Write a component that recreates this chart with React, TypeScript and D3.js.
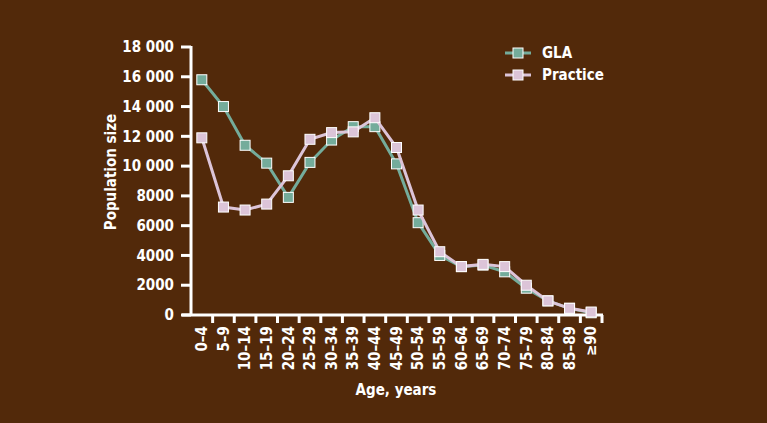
import * as d3 from "d3";

const ageGroups = [
  "0–4", "5–9", "10–14", "15–19", "20–24", "25–29", "30–34", "35–39", "40–44",
  "45–49", "50–54", "55–59", "60–64", "65–69", "70–74", "75–79", "80–84", "85–89", "≥90",
];
const glaValues = [
  15800, 14000, 11400, 10200, 7900, 10250, 11750, 12650, 12650,
  10150, 6200, 4000, 3250, 3350, 2900, 1800, 950, 450, 150,
];
const practiceValues = [
  11900, 7250, 7050, 7450, 9350, 11800, 12250, 12300, 13250,
  11250, 7050, 4250, 3250, 3400, 3250, 2000, 950, 450, 200,
];
const yTicks = [0, 2000, 4000, 6000, 8000, 10000, 12000, 14000, 16000, 18000];

const width = 767;
const height = 423;
const bg = "#52290a";
const green = "#74ac9b";
const pink = "#dcc4d8";
const font = "'Liberation Sans Narrow', 'DejaVu Sans Condensed', 'Roboto', sans-serif";

const fmt = (v: number) => (v >= 10000 ? d3.format(",")(v).replace(",", " ") : String(v));

export default function App() {
  const x = d3.scaleBand<string>().domain(ageGroups).range([191, 602]).padding(0);
  const y = d3.scaleLinear().domain([0, 18000]).range([315, 47]);
  const cx = (i: number) => (x(ageGroups[i]) as number) + x.bandwidth() / 2;
  const line = d3.line<number>((_, i) => cx(i), (d) => y(d));

  const series = [
    { name: "GLA", values: glaValues, color: green },
    { name: "Practice", values: practiceValues, color: pink },
  ];

  return (
    <svg width={width} height={height} style={{ position: "absolute", left: 0, top: 0, background: bg }}>
      <rect width={width} height={height} fill={bg} />
      {/* axes */}
      <g stroke="white" strokeWidth={3} fill="none">
        <line x1={191} x2={191} y1={y(18000) - 1} y2={316} />
        <line x1={182} x2={603} y1={315} y2={315} />
        {yTicks.map((t) => (
          <line key={t} x1={181} x2={191} y1={y(t)} y2={y(t)} />
        ))}
        {ageGroups.map((g) => (
          <line key={g} x1={(x(g) as number) + x.bandwidth()} x2={(x(g) as number) + x.bandwidth()} y1={315} y2={323} />
        ))}
      </g>
      <g fill="white" fontFamily={font} fontWeight="bold" fontSize={15}>
        {yTicks.map((t) => (
          <text key={t} x={174} y={y(t)} dy="0.35em" textAnchor="end">{fmt(t)}</text>
        ))}
        {ageGroups.map((g, i) => (
          <text key={g} transform={`translate(${cx(i)},326) rotate(-90)`} dy="0.35em" textAnchor="end">{g}</text>
        ))}
        <text transform="translate(111,172) rotate(-90)" dy="0.35em" textAnchor="middle">Population size</text>
        <text x={396} y={390} dy="0.35em" textAnchor="middle">Age, years</text>
      </g>
      {/* series */}
      {series.map((s) => (
        <g key={s.name}>
          <path d={line(s.values) ?? ""} fill="none" stroke={s.color} strokeWidth={3} />
          {s.values.map((v, i) => (
            <rect key={i} x={cx(i) - 5} y={y(v) - 5} width={10} height={10} fill={s.color} stroke="white" strokeWidth={1} />
          ))}
        </g>
      ))}
      {/* legend */}
      {series.map((s, i) => (
        <g key={s.name} transform={`translate(0,${53 + i * 22})`}>
          <line x1={505} x2={531} y1={0} y2={0} stroke={s.color} strokeWidth={3} />
          <rect x={513} y={-5} width={10} height={10} fill={s.color} stroke="white" strokeWidth={1} />
          <text x={542} y={0} dy="0.35em" fill="white" fontFamily={font} fontWeight="bold" fontSize={15}>{s.name}</text>
        </g>
      ))}
    </svg>
  );
}
